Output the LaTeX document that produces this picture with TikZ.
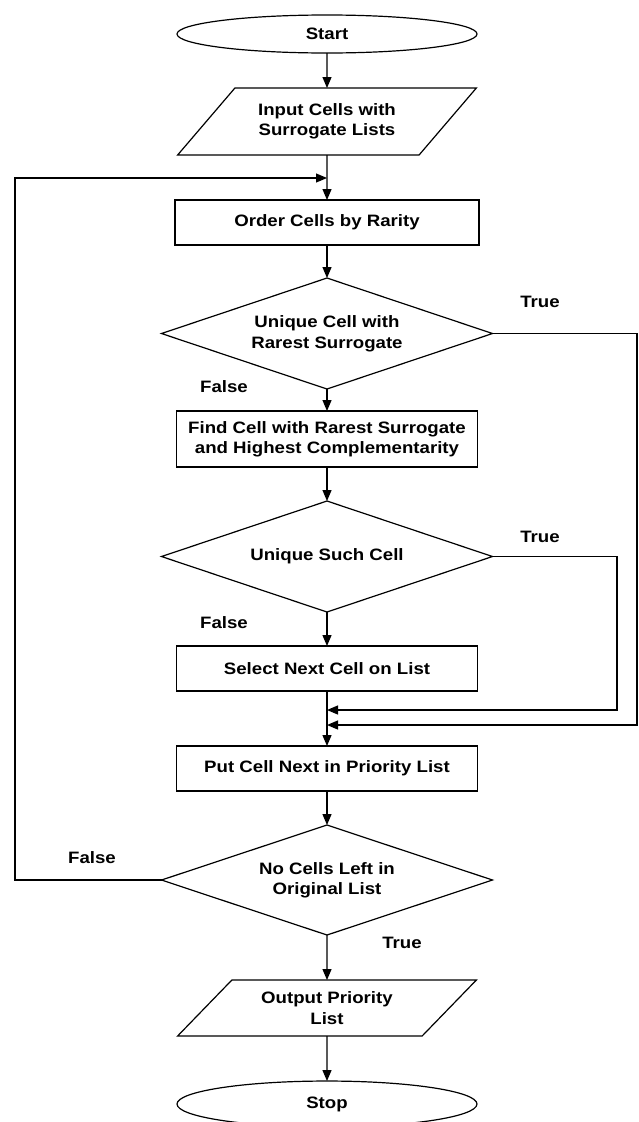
\documentclass[tikz,border=0pt]{standalone}
\usepackage{fontspec}
\setmainfont{Liberation Sans}[FakeStretch=1.13]
\usetikzlibrary{shapes.geometric,arrows.meta,positioning}

\tikzset{
  terminal/.style={draw, ellipse, line width=1.2pt, inner sep=0pt, outer sep=0pt, minimum width=300pt, minimum height=38pt},
  iobox/.style={draw, trapezium, trapezium stretches=true, line width=1.2pt, inner sep=0pt, outer sep=0pt, align=center, minimum width=299pt},
  procbox/.style={draw, rectangle, line width=1.2pt, inner sep=0pt, outer sep=0pt, align=center, minimum width=301pt, minimum height=45pt},
  decision/.style={draw, diamond, aspect=2.95, line width=1.2pt, inner sep=0pt, outer sep=0pt, align=center, minimum width=331pt, minimum height=111pt},
  answer/.style={inner sep=0pt}
}

\begin{document}
\begin{tikzpicture}[x=1pt, y=1pt, >={Triangle[length=11pt,width=9pt]}, line width=1.2pt,
    font=\fontsize{16.5}{20.5}\selectfont\bfseries]
        \useasboundingbox (0,0) rectangle (639,-1122);

        \node [terminal] (start) at (327,-34) {Start};
        \node [iobox, below=35pt of start, minimum height=67pt, trapezium left angle=40, trapezium right angle=140] (input) {Input Cells with\\Surrogate Lists};
        \node [procbox, below=45pt of input, minimum width=304pt] (order) {Order Cells by Rarity};
        \node [decision, below=33pt of order] (uniq) {Unique Cell with\\Rarest Surrogate};
        \node [procbox, below=22pt of uniq, minimum height=56pt] (find) {Find Cell with Rarest Surrogate\\and Highest Complementarity};
        \node [decision, below=34pt of find] (such) {Unique Such Cell};
        \node [procbox, below=34pt of such] (select) {Select Next Cell on List};
        \node [procbox, below=55pt of select] (put) {Put Cell Next in Priority List};
        \node [decision, below=34pt of put, minimum height=110pt] (left) {No Cells Left in\\Original List};
        \node [iobox, below=45pt of left, minimum height=56pt, trapezium left angle=41, trapezium right angle=139] (output) {Output Priority\\List};
        \node [terminal, below=45pt of output, minimum height=46pt] (stop) {Stop};

        % junctions on the main line
        \coordinate (loopin) at (327,-178);
        \coordinate (joinA) at (327,-710);
        \coordinate (joinB) at (327,-725);
        \coordinate (farA) at (617,-710);
        \coordinate (farB) at (637,-725);
        \coordinate (farL) at (15,-178);

        \draw [->] (start) -- (input);
        \draw [->] (input) -- (order);
        \draw [->] (order) -- (uniq);
        \draw [->] (uniq) -- (find);
        \draw [->] (find) -- (such);
        \draw [->] (such) -- (select);
        \draw [->] (select) -- (put);
        \draw [->] (put) -- (left);
        \draw [->] (left) -- (output);
        \draw [->] (output) -- (stop);

        \draw [->] (uniq.east) -| (farB) -- (joinB);
        \draw [->] (such.east) -| (farA) -- (joinA);
        \draw [->] (left.west) -| (farL) -- (loopin);

        \node [answer] (t1) at (540,-302) {True};
        \node [answer] (f1) at (224,-387) {False};
        \node [answer] (t2) at (540,-537) {True};
        \node [answer] (f2) at (224,-623) {False};
        \node [answer] (f3) at (92,-858) {False};
        \node [answer] (t3) at (402,-943) {True};
    \end{tikzpicture}
\end{document}
